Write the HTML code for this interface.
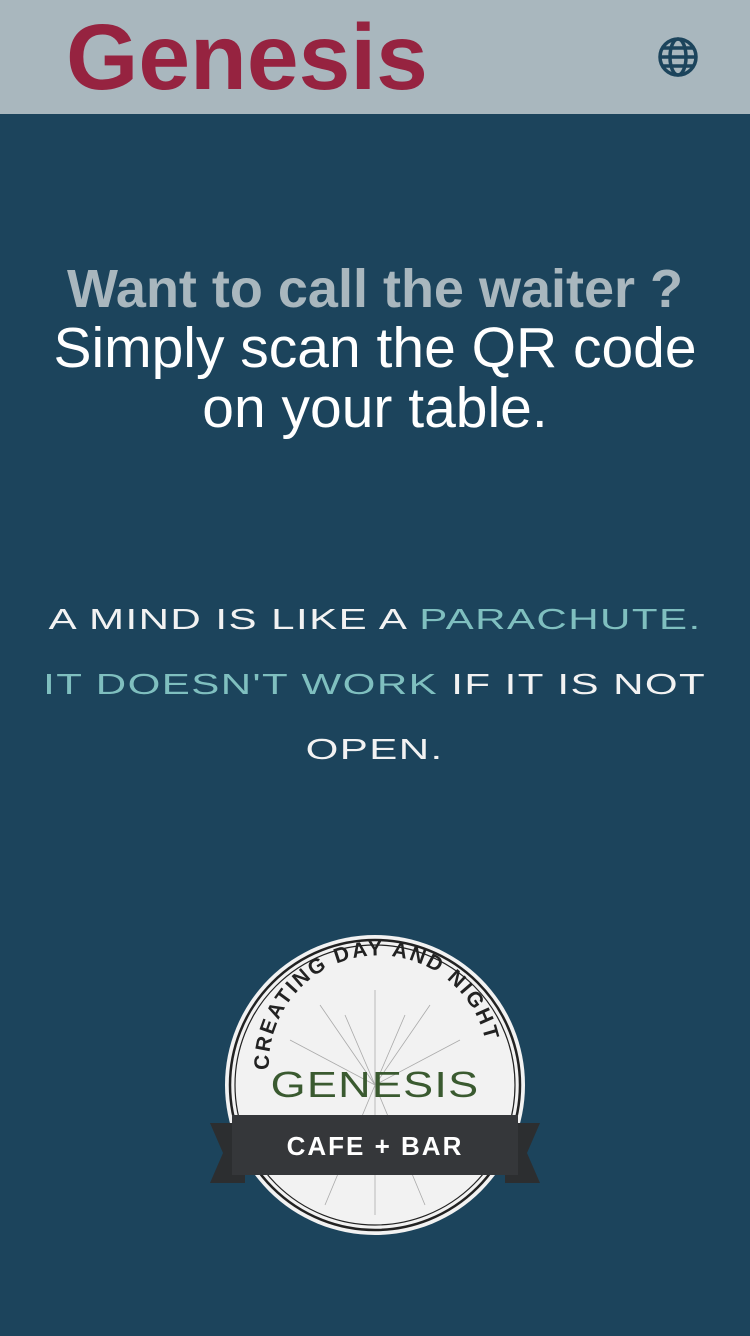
<!DOCTYPE html>
<html><head><meta charset="utf-8"><style>
html,body{margin:0;padding:0}
body{width:750px;height:1336px;background:#1c445c;font-family:"Liberation Sans",sans-serif;position:relative;overflow:hidden}
.hdr{position:absolute;left:0;top:0;width:750px;height:114px;background:#a9b7be}
.brand{position:absolute;left:66px;top:2px;font-size:93px;font-weight:bold;color:#962340;line-height:110px;letter-spacing:0px}
.globe{position:absolute;left:657px;top:36px}
.h1{position:absolute;left:0;width:750px;text-align:center;color:#a9b7be;font-weight:bold;font-size:54px;top:259px;line-height:60px}
.h2{position:absolute;left:0;width:750px;text-align:center;color:#fff;font-size:57px;top:318px;line-height:60px}
.q{position:absolute;left:0;width:750px;text-align:center;font-size:29px;line-height:65px;top:588px;color:#f2f2f2;letter-spacing:1px}
.q span.w{display:inline-block;transform:scaleX(1.45);transform-origin:center}
.t{color:#7fbfbf}
.logo{position:absolute;left:205px;top:930px}
</style></head><body>
<div class="hdr">
<div class="brand">Genesis</div>
<svg class="globe" width="42" height="42" viewBox="0 0 42 42">
<g fill="none" stroke="#1c445c" stroke-width="3.5"><ellipse cx="21" cy="21" rx="18" ry="18"/><ellipse cx="21" cy="21" rx="8" ry="18"/><line x1="3" y1="21" x2="39" y2="21"/><line x1="6" y1="12" x2="36" y2="12"/><line x1="6" y1="30" x2="36" y2="30"/></g></svg>
</div>
<div class="h1">Want to call the waiter ?</div>
<div class="h2">Simply scan the QR code<br>on your table.</div>
<div class="q">
<span class="w">A MIND IS LIKE A <span class="t">PARACHUTE.</span></span><br>
<span class="w"><span class="t">IT DOESN'T WORK</span> IF IT IS NOT</span><br>
<span class="w">OPEN.</span></div>
<svg class="logo" width="340" height="310" viewBox="0 0 340 310">
<defs><path id="arc" d="M 64 140 A 107 107 0 0 1 283 130"/></defs>
<circle cx="170" cy="155" r="150" fill="#f2f2f2"/>
<circle cx="170" cy="155" r="145" fill="none" stroke="#222" stroke-width="2.5"/>
<circle cx="170" cy="155" r="140" fill="none" stroke="#222" stroke-width="1.2"/>
<g stroke="#aaa" stroke-width="0.8">
<line x1="170" y1="155" x2="170" y2="60"/><line x1="170" y1="155" x2="115" y2="75"/><line x1="170" y1="155" x2="225" y2="75"/>
<line x1="170" y1="155" x2="85" y2="110"/><line x1="170" y1="155" x2="255" y2="110"/><line x1="170" y1="155" x2="120" y2="275"/>
<line x1="170" y1="155" x2="220" y2="275"/><line x1="170" y1="155" x2="170" y2="285"/><line x1="170" y1="155" x2="140" y2="85"/><line x1="170" y1="155" x2="200" y2="85"/></g>
<text font-family="Liberation Sans, sans-serif" font-size="21" font-weight="bold" fill="#222" letter-spacing="2.2"><textPath href="#arc">CREATING DAY AND NIGHT</textPath></text>
<text x="170" y="167" text-anchor="middle" font-family="Liberation Sans, sans-serif" font-size="36" fill="#3a5a30" letter-spacing="1" transform="translate(170,0) scale(1.25,1) translate(-170,0)">GENESIS</text>
<polygon points="5,193 40,193 40,253 5,253 18,223" fill="#2c2e30"/>
<polygon points="335,193 300,193 300,253 335,253 322,223" fill="#2c2e30"/>
<rect x="27" y="185" width="286" height="60" fill="#35373a"/>
<text x="170" y="225" text-anchor="middle" font-family="Liberation Sans Narrow, Liberation Sans, sans-serif" font-size="26" font-weight="bold" fill="#fff" letter-spacing="2">CAFE + BAR</text>
</svg>
</body></html>
